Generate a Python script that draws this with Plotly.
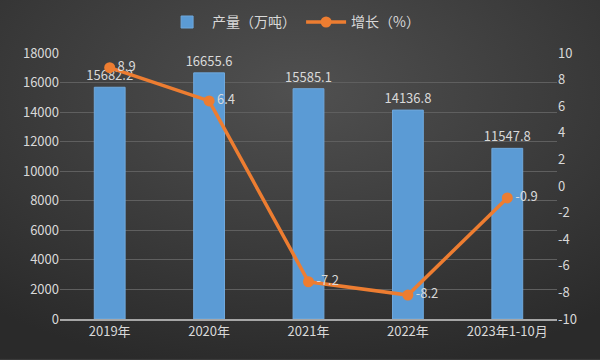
import plotly.graph_objects as go
import base64

categories = ["2019年", "2020年", "2021年", "2022年", "2023年1-10月"]
output_wt = [15682.2, 16655.6, 15585.1, 14136.8, 11547.8]
growth_pct = [8.9, 6.4, -7.2, -8.2, -0.9]
left_ticks = [0, 2000, 4000, 6000, 8000, 10000, 12000, 14000, 16000, 18000]
right_ticks = [-10, -8, -6, -4, -2, 0, 2, 4, 6, 8, 10]

FONT = "Noto Sans CJK SC, Microsoft YaHei, sans-serif"
TXT = "#d9d9d9"

svg = ('<svg xmlns="http://www.w3.org/2000/svg" width="600" height="360">'
       '<defs><radialGradient id="g" cx="50%" cy="25%" r="80%">'
       '<stop offset="0%" stop-color="#505050"/><stop offset="100%" stop-color="#2a2a2a"/>'
       '</radialGradient></defs><rect width="600" height="360" fill="url(#g)"/></svg>')
bg = "data:image/svg+xml;base64," + base64.b64encode(svg.encode()).decode()

fig = go.Figure()
fig.add_trace(go.Bar(
    x=categories, y=output_wt, name="产量（万吨）",
    marker=dict(color="#5b9bd5", line=dict(color="#6fa8dc", width=1)),
    width=0.31,
    text=[f"{v:.1f}" for v in output_wt], textposition="outside",
    constraintext="none",
    textfont=dict(color=TXT, size=13, family=FONT), cliponaxis=False,
))
fig.add_trace(go.Scatter(
    x=categories, y=growth_pct, name="增长（%）", yaxis="y2",
    mode="lines+markers+text",
    line=dict(color="#ed7d31", width=3.5),
    marker=dict(color="#ed7d31", size=11),
    text=[f"{v:g}" for v in growth_pct], textposition="middle right",
    textfont=dict(color=TXT, size=13, family=FONT), cliponaxis=False,
))
fig.update_layout(
    width=600, height=360,
    margin=dict(l=60, r=43, t=53, b=41, autoexpand=False),
    paper_bgcolor="#3a3a3a", plot_bgcolor="rgba(0,0,0,0)",
    font=dict(family=FONT, color=TXT, size=13),
    images=[dict(source=bg, xref="paper", yref="paper", x=-0.121, y=1.2,
                 sizex=1.21, sizey=1.35, sizing="stretch", layer="below",
                 xanchor="left", yanchor="top")],
    showlegend=True,
    legend=dict(orientation="h", x=0.47, xanchor="center", y=1.115, yanchor="middle",
                font=dict(size=14, color=TXT, family=FONT), bgcolor="rgba(0,0,0,0)",
                itemwidth=40),
    xaxis=dict(showgrid=False, showline=True, linecolor="#a6a6a6", linewidth=1.5,
               tickfont=dict(size=13, color=TXT), ticks=""),
    yaxis=dict(range=[0, 18000], tickvals=left_ticks, ticktext=[str(v) for v in left_ticks],
               showgrid=True, gridcolor="#5f5f5f", gridwidth=1, zeroline=False,
               tickfont=dict(size=13, color=TXT), ticksuffix="  "),
    yaxis2=dict(range=[-10, 10], tickvals=right_ticks, ticktext=[str(v) for v in right_ticks],
                overlaying="y", side="right",
                showgrid=False, zeroline=False, tickfont=dict(size=13, color=TXT)),
)
fig.write_html("out.html", config={"displayModeBar": False},
               post_script="document.body.style.margin='0';document.body.style.background='#2a2a2a';")
